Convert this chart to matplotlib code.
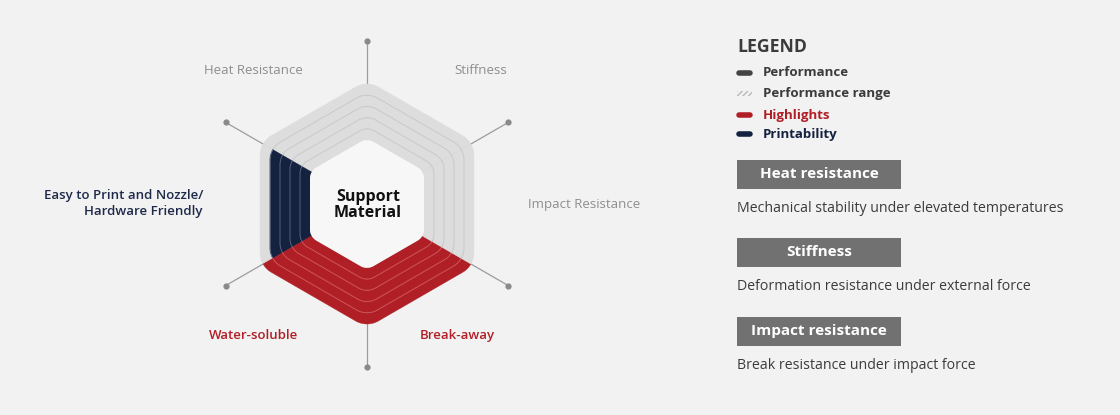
import matplotlib.pyplot as plt
import numpy as np
from matplotlib.patches import Polygon, Rectangle

plt.rcParams['font.family'] = ['Open Sans', 'DejaVu Sans']

# sides of the hexagon, counter-clockwise starting at the upper-right side
sides = ['Stiffness', 'Heat Resistance', 'Easy to Print and Nozzle/\nHardware Friendly',
         'Water-soluble', 'Break-away', 'Impact Resistance']
range_level = [5, 5, 5, 5, 5, 5]
highlight_level = [0, 0, 0, 5, 5, 0]
printability_level = [0, 0, 4, 0, 0, 0]
n_levels = 5

legend_items = ['Performance', 'Performance range', 'Highlights', 'Printability']
props = ['Heat resistance', 'Stiffness', 'Impact resistance']
prop_desc = ['Mechanical stability under elevated temperatures',
             'Deformation resistance under external force',
             'Break resistance under impact force']

BG = '#f2f2f2'
GRAY = '#dcdddc'
RED = '#b11f26'
NAVY = '#14213f'
LABEL_GRAY = '#8e8e8e'
DARK = '#3b3b3b'

cx, cy = 367, 204
a0, step = 57, 10  # apothem of inner hexagon and band width (px)


def corner_r(a):
    return 13 + 0.2 * (a - a0)


def side_outline(a, t1, t2, n=12):
    # rounded hexagon outline between vertex angles t1 and t2 (deg)
    rc = corner_r(a)
    d = (a - rc) / np.cos(np.radians(30))
    pts = []
    for tv, phis in ((t1, np.linspace(t1, t1 + 30, n)), (t2, np.linspace(t2 - 30, t2, n))):
        c = d * np.array([np.cos(np.radians(tv)), np.sin(np.radians(tv))])
        for p in phis:
            pts.append(c + rc * np.array([np.cos(np.radians(p)), np.sin(np.radians(p))]))
    pts = np.array(pts)
    return np.column_stack([cx + pts[:, 0], cy - pts[:, 1]])


fig = plt.figure(figsize=(11.2, 4.15), dpi=100)
fig.patch.set_facecolor(BG)
ax = fig.add_axes([0, 0, 1, 1])
ax.set_facecolor(BG)
ax.set_xlim(0, 1120)
ax.set_ylim(415, 0)
ax.axis('off')

# spokes at vertices
r_dot = 163
for k in range(6):
    t = np.radians(30 + 60 * k)
    x, y = cx + r_dot * np.cos(t), cy - r_dot * np.sin(t)
    ax.plot([cx, x], [cy, y], color='#9c9c9c', lw=0.9, zorder=1)
    ax.plot(x, y, 'o', color='#8a8a8a', ms=4.5, mec='none', zorder=1)

# bands
for i in range(6):
    t1, t2 = 30 + 60 * i, 90 + 60 * i
    for lv in range(1, n_levels + 1):
        if lv > range_level[i]:
            continue
        if lv <= highlight_level[i]:
            col, lc = RED, '#cc5358'
        elif lv <= printability_level[i]:
            col, lc = NAVY, '#56607a'
        else:
            col, lc = GRAY, '#c8c9c8'
        outer = side_outline(a0 + step * lv, t1, t2)
        inner = side_outline(a0 + step * (lv - 1), t1, t2)
        poly = np.vstack([outer, inner[::-1]])
        ax.add_patch(Polygon(poly, closed=True, facecolor=col, edgecolor=col, lw=0.3, zorder=2))
        if lv < range_level[i]:
            ax.plot(outer[:, 0], outer[:, 1], color=lc, lw=0.7, zorder=3)

# inner hexagon
inner_pts = np.vstack([side_outline(a0, 30 + 60 * i, 90 + 60 * i) for i in range(6)])
ax.add_patch(Polygon(inner_pts, closed=True, facecolor='#f7f7f7', edgecolor='none', zorder=4))
ax.text(cx + 1, cy + 1, 'Support\nMaterial', ha='center', va='center', fontsize=11.5,
        fontweight='bold', color='#111111', linespacing=0.95, zorder=5)

# side labels
label_pos = [(481, 71, 'center'), (253, 71, 'center'), (203, 203, 'right'),
             (254, 335, 'center'), (457, 335, 'center'), (584, 204, 'center')]
for i, name in enumerate(sides):
    x, y, ha = label_pos[i]
    if highlight_level[i]:
        col = RED
    elif printability_level[i]:
        col = '#1f2a4a'
    else:
        col = LABEL_GRAY
    w = 'semibold' if col != LABEL_GRAY else 'normal'
    ax.text(x, y, name, ha=ha, va='center', fontsize=9.5, color=col, fontweight=w,
            linespacing=1.3)

# legend
ax.text(737, 47, 'LEGEND', ha='left', va='center', fontsize=12.7, fontweight='bold', color=DARK)
leg_colors = ['#444444', None, RED, NAVY]
leg_y = [73, 94, 115, 134]
for name, c, y in zip(legend_items, leg_colors, leg_y):
    if c is None:
        ax.add_patch(Rectangle((737, y - 2.5), 15, 5, facecolor='none', edgecolor='#b8b8b8',
                               hatch='//////', lw=0))
        tc = DARK
    else:
        ax.plot([739, 750], [y, y], color=c, lw=4, solid_capstyle='round')
        tc = c if c != '#444444' else DARK
    ax.text(763, y, name, ha='left', va='center', fontsize=9.5, fontweight='bold', color=tc)

# property boxes
box_y = [160, 238, 317]
for name, desc, y in zip(props, prop_desc, box_y):
    ax.add_patch(Rectangle((737, y), 164, 29, facecolor='#717171', edgecolor='none'))
    ax.text(819, y + 14, name, ha='center', va='center', fontsize=11, fontweight='bold',
            color='white')
    ax.text(737, y + 48, desc, ha='left', va='center', fontsize=10.2, color=DARK)

fig.savefig('out.png', dpi=100, facecolor=BG)
